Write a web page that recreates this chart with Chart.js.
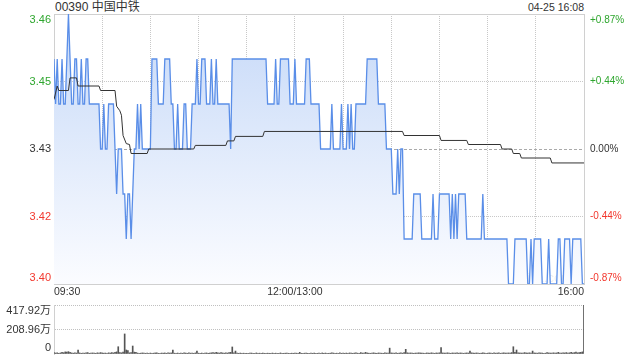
<!DOCTYPE html>
<html>
<head>
<meta charset="utf-8">
<script src="https://cdn.jsdelivr.net/npm/chart.js"></script>
<style>
  html, body { margin: 0; padding: 0; background: #fff; }
  #wrap { position: relative; width: 640px; height: 360px; color: #333;
          font-family: "Liberation Sans", Arial, "Noto Sans CJK SC", sans-serif; }
  #title { position: absolute; left: 55px; top: 0; font-size: 12px; line-height: 15px; }
  #stamp { position: absolute; right: 56px; top: 0; font-size: 10.5px; line-height: 15px; }
  canvas { position: absolute; left: 0; }
</style>
</head>
<body>
<div id="wrap">
  <div id="title">00390 中国中铁</div>
  <div id="stamp">04-25 16:08</div>
  <canvas id="price" width="640" height="300" style="top:0"></canvas>
  <canvas id="vol" width="640" height="60" style="top:300px"></canvas>
</div>
<script>
// minute-by-minute last price, 09:30 -> 16:00 (330 trading minutes)
const PRICE = [
  3.45,3.44,3.45,3.44,3.44,3.45,3.44,3.44,3.45,3.46, // 09:30
  3.45,3.44,3.44,3.45,3.45,3.44,3.44,3.45,3.44,3.44,
  3.45,3.45,3.44,3.44,3.44,3.44,3.44,3.44,3.44,3.43,
  3.43,3.44,3.43,3.43,3.44,3.44,3.44,3.44,3.43,3.42, // 10:00
  3.43,3.43,3.43,3.42,3.42,3.41,3.42,3.42,3.41,3.42,
  3.43,3.43,3.44,3.43,3.44,3.43,3.43,3.43,3.43,3.43,
  3.43,3.45,3.45,3.45,3.45,3.44,3.44,3.44,3.44,3.45, // 10:30
  3.45,3.45,3.45,3.44,3.44,3.43,3.43,3.44,3.43,3.43,
  3.43,3.44,3.44,3.43,3.43,3.43,3.44,3.44,3.44,3.45,
  3.44,3.44,3.45,3.45,3.45,3.44,3.44,3.44,3.45,3.44, // 11:00
  3.44,3.45,3.44,3.44,3.44,3.44,3.44,3.44,3.44,3.44,
  3.43,3.45,3.45,3.45,3.45,3.45,3.45,3.45,3.45,3.45,
  3.45,3.45,3.45,3.45,3.45,3.45,3.45,3.45,3.45,3.45, // 11:30
  3.45,3.45,3.45,3.44,3.44,3.44,3.44,3.44,3.45,3.44,
  3.44,3.45,3.45,3.45,3.45,3.45,3.45,3.44,3.44,3.44,
  3.45,3.44,3.44,3.44,3.44,3.44,3.44,3.45,3.45,3.45, // 13:00
  3.44,3.44,3.44,3.44,3.44,3.44,3.43,3.43,3.43,3.43,
  3.43,3.43,3.43,3.44,3.43,3.43,3.43,3.43,3.43,3.44,
  3.43,3.43,3.43,3.44,3.43,3.44,3.43,3.43,3.44,3.44, // 13:30
  3.44,3.44,3.44,3.44,3.44,3.45,3.45,3.45,3.45,3.45,
  3.45,3.45,3.44,3.44,3.44,3.44,3.44,3.43,3.43,3.43,
  3.43,3.42,3.42,3.42,3.43,3.42,3.43,3.43,3.41,3.41, // 14:00
  3.41,3.41,3.41,3.41,3.42,3.42,3.42,3.42,3.42,3.41,
  3.41,3.41,3.41,3.41,3.41,3.41,3.42,3.41,3.41,3.41,
  3.42,3.42,3.42,3.42,3.42,3.42,3.42,3.41,3.42,3.41, // 14:30
  3.42,3.41,3.42,3.42,3.42,3.42,3.42,3.41,3.41,3.41,
  3.41,3.41,3.41,3.41,3.41,3.41,3.41,3.42,3.41,3.41,
  3.41,3.41,3.41,3.41,3.41,3.41,3.41,3.41,3.41,3.41, // 15:00
  3.41,3.41,3.41,3.40,3.40,3.40,3.40,3.41,3.41,3.41,
  3.41,3.41,3.41,3.41,3.41,3.40,3.40,3.41,3.40,3.41,
  3.41,3.41,3.41,3.41,3.40,3.40,3.40,3.40,3.41,3.40, // 15:30
  3.40,3.40,3.40,3.40,3.41,3.41,3.40,3.40,3.41,3.41,
  3.41,3.41,3.40,3.41,3.41,3.41,3.41,3.41,3.41,3.40,
  3.40 // 16:00
];

// average price line, as knots (minute, value)
const AVG_MIN = [0, 2, 3, 9, 10, 14, 15, 28, 29, 38, 39, 41, 42, 43, 45, 47, 48, 58, 59, 87, 88,
  107, 108, 112, 113, 130, 131, 217, 218, 240, 241, 257, 258, 278, 279, 285, 286, 290, 291, 309, 310, 330];
const AVG_VAL = [3.4410, 3.4440, 3.4430, 3.4430, 3.4458, 3.4458, 3.4440, 3.4440, 3.4430, 3.4430,
  3.4395, 3.4385, 3.4375, 3.4330, 3.4312, 3.4310, 3.4290, 3.4290, 3.4300, 3.4300, 3.4308,
  3.4308, 3.4318, 3.4318, 3.4328, 3.4328, 3.4339, 3.4339, 3.4330, 3.4330, 3.4319, 3.4319,
  3.4310, 3.4310, 3.4300, 3.4300, 3.4290, 3.4290, 3.4280, 3.4280, 3.4269, 3.4269];

// volume per minute, in 万 shares
const VOLUME = [
  12,8,10,6,9,14,11,18,16,20,15,9,7,10,8,34,9,6,8,7,10,12,6,8,9,7,6,10,8,12,
  9,7,8,6,10,8,12,9,14,18,62,12,10,16,171,34,30,10,12,68,16,14,8,6,7,9,8,6,7,5,
  8,6,7,9,10,6,5,8,7,9,6,10,8,9,34,7,6,8,5,7,6,9,8,6,10,7,8,6,9,25,
  7,6,8,5,7,9,6,8,10,12,9,14,10,8,12,9,7,10,8,12,14,60,9,25,7,6,8,5,7,6,
  6,5,7,8,6,5,9,6,7,5,8,6,5,7,6,5,8,6,7,5,6,9,5,6,7,8,6,5,7,6,
  8,7,6,14,6,5,7,8,6,5,7,6,8,5,6,7,5,9,6,8,5,6,7,10,8,6,7,5,9,6,
  7,6,8,5,9,7,6,8,10,7,6,12,8,7,14,9,7,6,8,10,7,6,9,8,7,6,10,8,7,50,
  9,8,7,10,6,8,9,7,12,40,10,8,9,7,6,8,7,10,9,8,7,6,9,8,7,10,8,6,9,7,
  10,54,9,8,7,10,8,6,9,7,8,10,7,9,8,6,7,9,8,25,10,8,7,9,8,6,7,10,8,6,
  7,9,8,6,10,7,8,9,6,7,10,8,7,9,8,12,62,14,34,10,9,8,7,12,9,8,10,7,25,9,
  8,7,10,9,8,6,7,12,9,8,7,10,8,9,14,7,8,10,9,12,8,10,14,9,12,16,10,12,14,18,
  417.92
];

const PRECLOSE = 3.43;
const PRICE_TICKS = [3.40, 3.415, 3.43, 3.445, 3.46];
const PRICE_LABELS = ['3.40', '3.42', '3.43', '3.45', '3.46'];
const PCT_LABELS = ['-0.87%', '-0.44%', '0.00%', '+0.44%', '+0.87%'];
const TIME_TICKS = [0, 150, 330];
const TIME_LABELS = ['09:30', '12:00/13:00', '16:00'];
const VOL_TICKS = [0, 208.96, 417.92];
const VOL_LABELS = ['0', '208.96万', '417.92万'];

const GREEN = '#2ea62e', RED = '#f2382e', DARK = '#333';
const LABEL_COLORS = [RED, RED, DARK, GREEN, GREEN];
const FONT = '"Liberation Sans", Arial, "Noto Sans CJK SC", sans-serif';

Chart.defaults.font.family = FONT;
Chart.defaults.color = DARK;

// side labels, nudged inside the plot at the top / bottom edge
const sideText = {
  id: 'sideText',
  afterDraw(chart, args, o) {
    const { ctx, chartArea: a } = chart;
    const y = chart.scales.y;
    ctx.save();
    ctx.textBaseline = 'middle';
    o.ticks.forEach((v, i) => {
      const py = Math.min(Math.max(y.getPixelForValue(v), a.top + 6), a.bottom - 6);
      ctx.font = o.leftFont + ' ' + FONT;
      ctx.textAlign = 'right';
      ctx.fillStyle = o.leftColors ? o.leftColors[i] : DARK;
      ctx.fillText(o.left[i], a.left - 3, py);
      if (o.right) {
        ctx.font = o.rightFont + ' ' + FONT;
        ctx.textAlign = 'left';
        ctx.fillStyle = o.leftColors[i];
        ctx.fillText(o.right[i], a.right + 6, py);
      }
    });
    ctx.restore();
  }
};

// frame + pre-close line, under the series
const frame = {
  id: 'frame',
  beforeDatasetsDraw(chart) {
    const { ctx, chartArea: a } = chart;
    const py = Math.round(chart.scales.y.getPixelForValue(PRECLOSE)) + 0.5;
    ctx.save();
    ctx.strokeStyle = '#aaa';
    ctx.lineWidth = 1;
    ctx.setLineDash([3, 2]);
    ctx.beginPath(); ctx.moveTo(a.left, py); ctx.lineTo(a.right, py); ctx.stroke();
    ctx.setLineDash([]);
    ctx.strokeStyle = '#d0d0d0';
    ctx.strokeRect(Math.round(a.left) + 0.5, Math.round(a.top) + 0.5,
      Math.round(a.right - a.left), Math.round(a.bottom - a.top));
    ctx.fillStyle = 'rgba(0,0,0,0.07)';
    ctx.font = '13px ' + FONT;
    ctx.textAlign = 'right';
    ctx.textBaseline = 'middle';
    ctx.fillText('sina.com', a.right - 12, a.bottom - 6);
    ctx.restore();
  }
};

const fillGrad = (c) => {
  const a = c.chart.chartArea;
  if (!a) return 'rgba(0,0,0,0)';
  const g = c.chart.ctx.createLinearGradient(0, a.top, 0, a.bottom);
  g.addColorStop(0, 'rgb(198,217,248)');
  g.addColorStop(1, 'rgb(251,252,255)');
  return g;
};

new Chart(document.getElementById('price'), {
  type: 'line',
  data: {
    datasets: [
      {
        data: AVG_MIN.map((m, i) => ({ x: m, y: AVG_VAL[i] })),
        borderColor: '#333', borderWidth: 1, pointRadius: 0, fill: false
      },
      {
        data: PRICE.map((p, i) => ({ x: i, y: p })),
        borderColor: '#5a8ee8', borderWidth: 1.3, pointRadius: 0,
        fill: 'start', backgroundColor: fillGrad
      }
    ]
  },
  options: {
    responsive: false, animation: false, devicePixelRatio: 1,
    layout: { padding: { left: 54, right: 56, top: 14, bottom: 0 } },
    plugins: {
      legend: { display: false }, tooltip: { enabled: false },
      sideText: { ticks: PRICE_TICKS, left: PRICE_LABELS, right: PCT_LABELS,
        leftColors: LABEL_COLORS, leftFont: '11px', rightFont: '10px' }
    },
    scales: {
      x: {
        type: 'linear', min: 0, max: 330,
        afterFit: s => { s.height = 16; },
        grid: { color: c => (c.index === 0 || c.index === 11) ? 'rgba(0,0,0,0)' : '#c8c8c8', drawTicks: false },
        border: { display: false, dash: [1, 1] },
        ticks: {
          stepSize: 30, autoSkip: false, maxRotation: 0, align: 'inner', padding: 2,
          color: DARK, font: { size: 10.5 },
          callback: v => { const k = TIME_TICKS.indexOf(v); return k >= 0 ? TIME_LABELS[k] : ''; }
        }
      },
      y: {
        min: 3.40, max: 3.46,
        afterBuildTicks: s => { s.ticks = PRICE_TICKS.map(v => ({ value: v })); },
        afterFit: s => { s.width = 0; },
        grid: { color: c => (c.index === 1 || c.index === 3) ? '#c8c8c8' : 'rgba(0,0,0,0)', drawTicks: false },
        border: { display: false, dash: [1, 1] },
        ticks: { display: false }
      }
    }
  },
  plugins: [frame, sideText]
});

new Chart(document.getElementById('vol'), {
  type: 'bar',
  data: {
    datasets: [{
      data: VOLUME.map((v, i) => ({ x: i, y: v })),
      backgroundColor: '#555', barThickness: 1
    }]
  },
  options: {
    responsive: false, animation: false, devicePixelRatio: 1,
    layout: { padding: { left: 54, right: 56, top: 5, bottom: 6 } },
    plugins: {
      legend: { display: false }, tooltip: { enabled: false },
      sideText: { ticks: VOL_TICKS, left: VOL_LABELS, leftFont: '11px' }
    },
    scales: {
      x: { type: 'linear', min: 0, max: 330, offset: false, display: false },
      y: {
        min: 0, max: 417.92,
        afterBuildTicks: s => { s.ticks = VOL_TICKS.map(v => ({ value: v })); },
        afterFit: s => { s.width = 0; },
        grid: { color: c => c.index === 0 ? 'rgba(0,0,0,0)' : '#c0c0c0', drawTicks: false },
        border: { display: true, color: '#d0d0d0', dash: [1, 1] },
        ticks: { display: false }
      }
    }
  },
  plugins: [sideText]
});
</script>
</body>
</html>
